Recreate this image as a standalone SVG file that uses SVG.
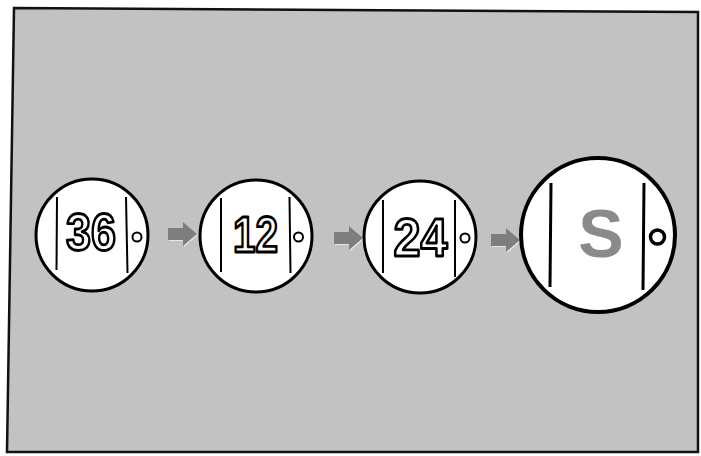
<svg xmlns="http://www.w3.org/2000/svg" width="701" height="456" viewBox="0 0 701 456">
  <defs>
    <path id="arrowShape" d="M0,-6 H15 V-12 L29,0 L15,12 V6 H0 Z"/>
  </defs>
  <style>
    .disc { fill: #ffffff; stroke: #000000; stroke-width: 3; }
    .bigdisc { fill: #ffffff; stroke: #000000; stroke-width: 4; }
    .bar { stroke: #000000; stroke-width: 2; fill: none; }
    .bigbar { stroke: #000000; stroke-width: 3; fill: none; }
    .dot { fill: #ffffff; stroke: #000000; stroke-width: 2; }
    .bigdot { fill: #ffffff; stroke: #000000; stroke-width: 3.5; }
    .num { font-family: "Liberation Sans", Arial, sans-serif; font-weight: bold; fill: #ffffff; stroke: #000000; stroke-width: 2.8; stroke-linejoin: round; text-anchor: middle; }
    .letter { font-family: "Liberation Sans", Arial, sans-serif; font-weight: bold; fill: #8a8a8a; text-anchor: middle; }
    .arrow { fill: #7e7e7e; }
    .arrowhl { fill: #e6e6e6; }
  </style>

  <rect x="0" y="0" width="701" height="456" fill="#ffffff"/>
  <polygon points="14,8 698,12 698,452 7,452" fill="#c2c2c2" stroke="#111" stroke-width="2.5"/>

  <g id="connectors">
    <use href="#arrowShape" class="arrowhl" transform="translate(169,235)"/>
    <use href="#arrowShape" class="arrow" transform="translate(168,234)"/>
    <use href="#arrowShape" class="arrowhl" transform="translate(335,239)"/>
    <use href="#arrowShape" class="arrow" transform="translate(334,238)"/>
    <use href="#arrowShape" class="arrowhl" transform="translate(492,241)"/>
    <use href="#arrowShape" class="arrow" transform="translate(491,240)"/>
  </g>

  <g id="node-36">
    <circle class="disc" cx="92" cy="235" r="56"/>
    <line class="bar" x1="57" y1="197" x2="56.5" y2="270"/>
    <line class="bar" x1="126" y1="197" x2="127.5" y2="273"/>
    <circle class="dot" cx="137" cy="237" r="4.5"/>
    <text class="num" x="91" y="250" font-size="52" textLength="50" lengthAdjust="spacingAndGlyphs">36</text>
  </g>

  <g id="node-12">
    <circle class="disc" cx="256" cy="236" r="56"/>
    <line class="bar" x1="221" y1="198" x2="221" y2="272"/>
    <line class="bar" x1="289.5" y1="197" x2="290.5" y2="273"/>
    <circle class="dot" cx="298.5" cy="237" r="4.5"/>
    <text class="num" x="255.5" y="252" font-size="50" textLength="45" lengthAdjust="spacingAndGlyphs">12</text>
  </g>

  <g id="node-24">
    <circle class="disc" cx="420" cy="237" r="56"/>
    <line class="bar" x1="383" y1="200" x2="383" y2="273"/>
    <line class="bar" x1="455" y1="200" x2="455" y2="277"/>
    <circle class="dot" cx="465" cy="238" r="4.5"/>
    <text class="num" x="420.5" y="256" font-size="53" textLength="54" lengthAdjust="spacingAndGlyphs">24</text>
  </g>

  <g id="node-S">
    <circle class="bigdisc" cx="598" cy="235" r="77"/>
    <line class="bigbar" x1="551" y1="183" x2="550" y2="287"/>
    <line class="bigbar" x1="644" y1="183" x2="643" y2="290"/>
    <circle class="bigdot" cx="657.5" cy="237" r="7"/>
    <text class="letter" x="601" y="257" font-size="68">S</text>
  </g>
</svg>
